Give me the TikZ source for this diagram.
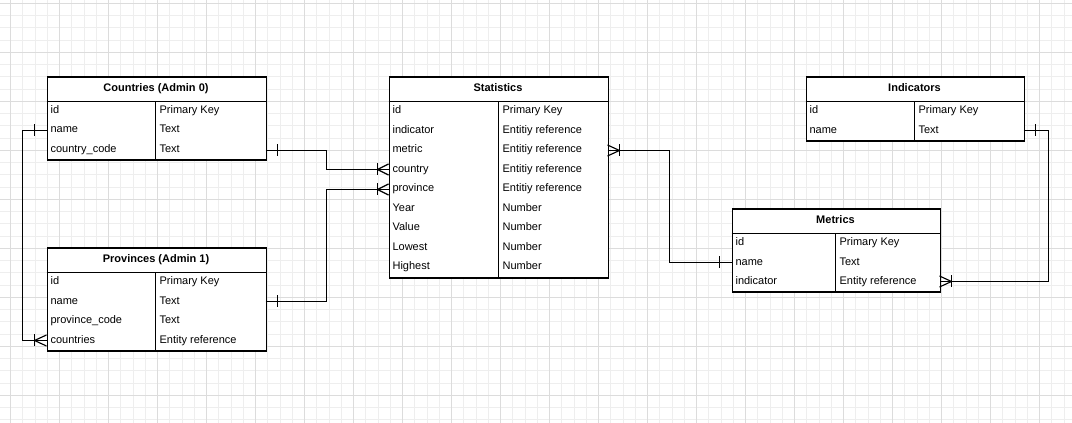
\documentclass[tikz,border=0pt]{standalone}
\usepackage{fontspec}
\setmainfont{Liberation Sans}
\usetikzlibrary{calc}
\definecolor{gridminor}{HTML}{EEEEEE}
\definecolor{gridmajor}{HTML}{DCDCDC}
\tikzset{
  minorline/.style={draw=gridminor, line width=0.75pt},
  majorline/.style={draw=gridmajor, line width=0.75pt},
  tbl/.style={draw=black, line width=0.95pt, inner sep=0pt, anchor=north west, fill=white},
  sepline/.style={draw=black, line width=0.95pt},
  hdr/.style={font=\bfseries\fontsize{8.25pt}{9.9pt}\selectfont, anchor=base, inner sep=0pt},
  cell/.style={font=\fontsize{8.25pt}{9.9pt}\selectfont, anchor=base west, inner sep=0pt},
  conn/.style={draw=black, line width=0.85pt},
}
\newcommand\erTable[7]{%
  \node[tbl, minimum width={(#4-#2)*0.75pt}, minimum height={(#5-#3)*0.75pt}] (#1) at (#2,#3) {};
  \draw[sepline] (#2,#3+25) -- (#4,#3+25);
  \draw[sepline] (#6,#3+25) -- (#6,#5);
  \node[hdr] (#1-title) at ({(#2+#4)/2},#3+15.5) {#7};
}
\newcommand\erRow[6]{%
  \node[cell] (#1a) at (#2+3.8,#4+2.5) {#5};
  \node[cell] (#1b) at (#3+3.8,#4+2.5) {#6};
}
\newcommand\oneBar[2]{% coordinate, signed offset
  \draw[conn] ($(#1)+(#2,-6)$) -- ($(#1)+(#2,6)$);
}
\newcommand\manyFoot[2]{% coordinate, signed offset
  \draw[conn] ($(#1)+(#2,-6)$) -- ($(#1)+(#2,6)$);
  \draw[conn] ($(#1)+(0,-5.5)$) -- ($(#1)+(#2,0)$) -- ($(#1)+(0,5.5)$);
}
\begin{document}
\begin{tikzpicture}[x=0.75pt, y=-0.75pt]
\useasboundingbox (0,0) rectangle (1072,423);
\fill[white] (0,0) rectangle (1072,423);
% grid
\foreach \i in {0,...,86} { \draw[minorline] (10.5+12.25*\i,0) -- (10.5+12.25*\i,423); }
\foreach \j in {0,...,34} { \draw[minorline] (0,3.5+12.25*\j) -- (1072,3.5+12.25*\j); }
\foreach \i in {0,4,...,84} { \draw[majorline] (10.5+12.25*\i,0) -- (10.5+12.25*\i,423); }
\foreach \j in {0,4,...,32} { \draw[majorline] (0,3.5+12.25*\j) -- (1072,3.5+12.25*\j); }

% Countries
\erTable{C}{46.5}{76.5}{265.5}{159.5}{155.5}{Countries (Admin 0)}
\erRow{C1}{46.5}{155.5}{110.95}{id}{Primary Key}
\erRow{C2}{46.5}{155.5}{130.45}{name}{Text}
\erRow{C3}{46.5}{155.5}{149.95}{country\_code}{Text}

% Provinces
\erTable{P}{46.5}{247.5}{265.5}{350.5}{155.5}{Provinces (Admin 1)}
\erRow{P1}{46.5}{155.5}{282.05}{id}{Primary Key}
\erRow{P2}{46.5}{155.5}{301.55}{name}{Text}
\erRow{P3}{46.5}{155.5}{321.05}{province\_code}{Text}
\erRow{P4}{46.5}{155.5}{340.55}{countries}{Entity reference}

% Statistics
\erTable{S}{388.5}{76.5}{607.5}{277.5}{498.5}{Statistics}
\erRow{S1}{388.5}{498.5}{111.45}{id}{Primary Key}
\erRow{S2}{388.5}{498.5}{130.95}{indicator}{Entitiy reference}
\erRow{S3}{388.5}{498.5}{150.45}{metric}{Entitiy reference}
\erRow{S4}{388.5}{498.5}{169.95}{country}{Entitiy reference}
\erRow{S5}{388.5}{498.5}{189.45}{province}{Entitiy reference}
\erRow{S6}{388.5}{498.5}{208.95}{Year}{Number}
\erRow{S7}{388.5}{498.5}{228.45}{Value}{Number}
\erRow{S8}{388.5}{498.5}{247.95}{Lowest}{Number}
\erRow{S9}{388.5}{498.5}{267.45}{Highest}{Number}

% Indicators
\erTable{I}{805.5}{76.5}{1023.5}{140.5}{914.5}{Indicators}
\erRow{I1}{805.5}{914.5}{111.05}{id}{Primary Key}
\erRow{I2}{805.5}{914.5}{130.55}{name}{Text}

% Metrics
\erTable{M}{731.5}{208.5}{939.5}{291.5}{835.5}{Metrics}
\erRow{M1}{731.5}{835.5}{243.05}{id}{Primary Key}
\erRow{M2}{731.5}{835.5}{262.55}{name}{Text}
\erRow{M3}{731.5}{835.5}{282.05}{indicator}{Entity reference}

% connector end points
\coordinate (cName) at (46.5,130.5);
\coordinate (cCode) at (265.5,150.5);
\coordinate (pName) at (265.5,301.5);
\coordinate (pCountries) at (46.5,340.5);
\coordinate (sMetric) at (607.5,150.5);
\coordinate (sCountry) at (388.5,169.5);
\coordinate (sProvince) at (388.5,189.5);
\coordinate (iName) at (1023.5,130.5);
\coordinate (mName) at (731.5,262.5);
\coordinate (mInd) at (939.5,281.5);

% connectors
\draw[conn] (cName) -- ++(-24,0) |- (pCountries);
\draw[conn] (cCode) -- ++(61,0) |- (sCountry);
\draw[conn] (pName) -- ++(61,0) |- (sProvince);
\draw[conn] (sMetric) -- ++(62,0) |- (mName);
\draw[conn] (iName) -- ++(25,0) |- (mInd);

% markers
\oneBar{cName}{-12}
\manyFoot{pCountries}{-12}
\oneBar{cCode}{12}
\manyFoot{sCountry}{-11}
\oneBar{pName}{12}
\manyFoot{sProvince}{-11}
\manyFoot{sMetric}{12}
\oneBar{mName}{-12}
\oneBar{iName}{12}
\manyFoot{mInd}{12}
\end{tikzpicture}
\end{document}
